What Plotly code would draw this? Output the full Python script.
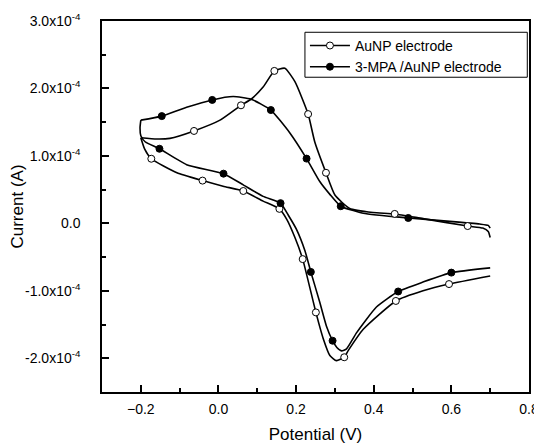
import plotly.graph_objects as go

# ---- data (current in units of 1e-4 A) ----
mpa_x = [-0.200, -0.146, -0.082, -0.016, 0.038, 0.084, 0.135, 0.184, 0.227, 0.261, 0.287, 0.315,
         0.373, 0.489, 0.596, 0.673, 0.695, 0.700, None,
         0.700, 0.600, 0.527, 0.463, 0.407, 0.356, 0.330, 0.317, 0.305, 0.294, 0.278, 0.261,
         0.238, 0.223, 0.201, 0.180, 0.160, 0.115, 0.064, 0.013, -0.082, -0.152, -0.189,
         -0.200, -0.202, -0.200]
mpa_y = [1.53, 1.59, 1.72, 1.83, 1.88, 1.84, 1.68, 1.34, 0.96, 0.62, 0.43, 0.254,
         0.15, 0.08, 0.03, -0.01, -0.03, -0.07, None,
         -0.66, -0.73, -0.87, -1.01, -1.24, -1.62, -1.86, -1.89, -1.84, -1.74, -1.52, -1.17,
         -0.72, -0.41, -0.09, 0.12, 0.30, 0.40, 0.57, 0.737, 0.87, 1.106, 1.21,
         1.30, 1.42, 1.53]
mpa_sym_x = [-0.146, -0.016, 0.135, 0.227, 0.315, 0.489, 0.600, 0.463, 0.294, 0.238, 0.160, 0.013, -0.152]
mpa_sym_y = [1.59, 1.83, 1.68, 0.96, 0.254, 0.08, -0.73, -1.01, -1.74, -0.72, 0.30, 0.737, 1.106]

au_x = [-0.200, -0.159, -0.125, -0.063, 0.004, 0.058, 0.084, 0.115, 0.144, 0.171, 0.197, 0.231,
        0.248, 0.277, 0.300, 0.338, 0.398, 0.454, 0.527, 0.642, 0.681, 0.695, 0.700, None,
        0.700, 0.594, 0.527, 0.457, 0.373, 0.335, 0.324, 0.304, 0.287, 0.270, 0.251, 0.217,
        0.197, 0.176, 0.157, 0.115, 0.064, 0.012, -0.041, -0.107, -0.173, -0.190, -0.200]
au_y = [1.27, 1.25, 1.26, 1.37, 1.53, 1.75, 1.84, 2.02, 2.26, 2.30, 2.10, 1.62,
        1.21, 0.75, 0.42, 0.22, 0.16, 0.14, 0.07, -0.04, -0.07, -0.12, -0.21, None,
        -0.78, -0.90, -1.00, -1.15, -1.57, -1.88, -1.985, -2.035, -1.96, -1.71, -1.32, -0.53,
        -0.21, 0.06, 0.215, 0.33, 0.48, 0.55, 0.634, 0.75, 0.958, 1.10, 1.27]
au_sym_x = [-0.063, 0.058, 0.144, 0.231, 0.277, 0.454, 0.642, 0.594, 0.457, 0.324, 0.251, 0.217,
            0.157, 0.064, -0.041, -0.173]
au_sym_y = [1.37, 1.75, 2.26, 1.62, 0.75, 0.14, -0.04, -0.90, -1.15, -1.985, -1.32, -0.53,
            0.215, 0.48, 0.634, 0.958]

y_tick_vals = [-2, -1, 0, 1, 2, 3]
y_tick_text = ["-2.0x10<sup>-4</sup>", "-1.0x10<sup>-4</sup>", "0.0",
               "1.0x10<sup>-4</sup>", "2.0x10<sup>-4</sup>", "3.0x10<sup>-4</sup>"]
series_names = ["AuNP electrode", "3-MPA /AuNP electrode"]

SCALE = 1e-4


def scale(vals):
    return [None if v is None else v * SCALE for v in vals]


FONT = "Liberation Sans, Arial, sans-serif"
fig = go.Figure()

series = [
    (series_names[0], au_x, au_y, au_sym_x, au_sym_y, "white"),
    (series_names[1], mpa_x, mpa_y, mpa_sym_x, mpa_sym_y, "black"),
]
for name, cx, cy, sx, sy, fill in series:
    fig.add_trace(go.Scatter(x=cx, y=scale(cy), mode="lines", showlegend=False,
                             line=dict(color="black", width=1.6, shape="spline", smoothing=0.5),
                             legendgroup=name, hoverinfo="skip"))
for name, cx, cy, sx, sy, fill in series:
    fig.add_trace(go.Scatter(x=sx, y=scale(sy), mode="markers", showlegend=False,
                             marker=dict(symbol="circle", size=7, color=fill,
                                         line=dict(color="black", width=1)),
                             legendgroup=name))
for name, cx, cy, sx, sy, fill in series:
    fig.add_trace(go.Scatter(x=[None], y=[None], mode="lines+markers", name=name,
                             legendgroup=name,
                             line=dict(color="black", width=1.6),
                             marker=dict(symbol="circle", size=7, color=fill,
                                         line=dict(color="black", width=1))))

# legend frame drawn as a paper-space rectangle (plotly's own frame is hugging the text)
fig.add_shape(type="rect", xref="paper", yref="paper",
              x0=0.4753, x1=0.996, y0=0.8484, y1=0.9696,
              line=dict(color="black", width=1), fillcolor="white", layer="above")

# the page body adds an 8 px offset, so the figure is 8 px smaller and margins shifted
fig.update_layout(
    width=534, height=438,
    margin=dict(l=94, r=13, t=13, b=54, autoexpand=False),
    paper_bgcolor="white", plot_bgcolor="white",
    font=dict(family=FONT, size=14, color="black"),
    legend=dict(x=0.4753, xanchor="left", y=0.976, yanchor="top",
                borderwidth=0, bgcolor="rgba(0,0,0,0)",
                font=dict(size=14, family=FONT), itemwidth=40, tracegroupgap=0),
    xaxis=dict(range=[-0.3, 0.8], tickmode="linear", tick0=-0.2, dtick=0.2,
               tickformat=".1f", ticks="inside", ticklen=7, tickwidth=1.5, tickcolor="black",
               showline=True, linecolor="black", linewidth=1.5, mirror=True,
               showgrid=False, zeroline=False, ticklabelstandoff=3, automargin=False,
               minor=dict(ticks="inside", ticklen=4, tickwidth=1.5, tickcolor="black",
                          tick0=-0.3, dtick=0.1),
               title=dict(text="Potential (V)", font=dict(size=17, family=FONT), standoff=13)),
    yaxis=dict(range=[-2.5 * SCALE, 3.0 * SCALE], tickmode="array",
               tickvals=scale(y_tick_vals), ticktext=y_tick_text,
               ticks="inside", ticklen=7, tickwidth=1.5, tickcolor="black",
               showline=True, linecolor="black", linewidth=1.5, mirror=True,
               showgrid=False, zeroline=False, ticklabelstandoff=17, automargin=False,
               minor=dict(ticks="inside", ticklen=4, tickwidth=1.5, tickcolor="black",
                          tick0=0, dtick=0.5 * SCALE),
               title=dict(text="Current (A)", font=dict(size=17, family=FONT), standoff=0)),
)

fig.write_html("out.html")
